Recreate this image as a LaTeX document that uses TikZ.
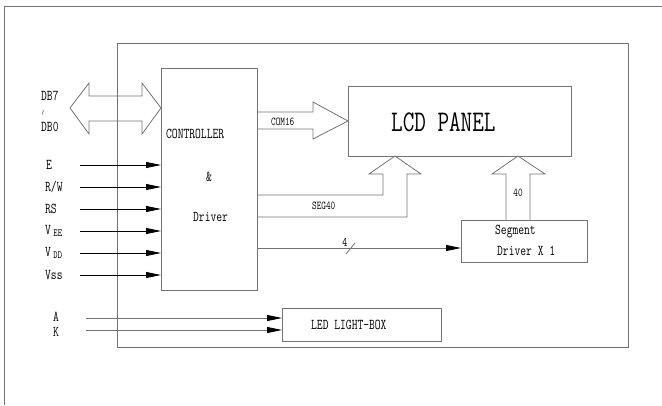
\documentclass[tikz,border=0pt]{standalone}
\usepackage{fontspec}
\newfontfamily\mono[FakeStretch=0.75]{Latin Modern Mono}
\usetikzlibrary{arrows.meta}
\definecolor{boxgray}{RGB}{115,115,115}
\tikzset{
  box/.style={draw=boxgray, line width=0.8pt, rectangle, inner sep=0pt, outer sep=0pt},
  lbl/.style={font=\mono\fontsize{15}{15}\selectfont, inner sep=0pt, anchor=west},
  slbl/.style={font=\mono\fontsize{12}{12}\selectfont, inner sep=0pt},
  inarrow/.style={draw=black, line width=0.8pt, -{Triangle[length=15pt,width=6pt,color=black]}},
  grayarrow/.style={draw=boxgray, line width=0.8pt, -{Triangle[length=15pt,width=6pt,color=black]}},
  bus/.style={draw=boxgray, line width=0.8pt, line join=miter},
}
\begin{document}
\begin{tikzpicture}[x=1pt,y=-1pt]
\useasboundingbox (0,0) rectangle (662,405);
% outer partial frame
\draw[boxgray, line width=0.8pt] (4,405) -- (4,6) -- (662,6);
% inner frame
\node[box, minimum width=511pt, minimum height=304pt] (frame) at (372.5,195) {};
% blocks
\node[box, minimum width=96pt, minimum height=222pt] (ctrl) at (209,179) {};
\node[box, minimum width=223pt, minimum height=70pt] (lcd) at (459.5,121) {};
\node[box, minimum width=126pt, minimum height=42pt] (seg) at (524,241) {};
\node[box, minimum width=159pt, minimum height=33pt] (led) at (361.5,324.5) {};
% block texts
\node[lbl] (tctrl) at (166,134) {CONTROLLER};
\node[lbl, anchor=center] (tamp) at (209,177) {\&};
\node[lbl] (tdrv) at (193,217) {Driver};
\node[font=\mono\fontsize{30}{30}\selectfont, inner sep=0pt, anchor=west] (tlcd) at (391,122) {LCD PANEL};
\node[lbl] (tseg1) at (495,232) {Segment};
\node[lbl] (tseg2) at (497,251) {Driver X 1};
\node[lbl] (tled) at (311,325) {LED LIGHT-BOX};
% data bus double arrow
\draw[bus] (70,108) -- (89,83) -- (89,96) -- (142,96) -- (142,83) -- (ctrl.west |- 0,108)
  -- (142,134) -- (142,121) -- (89,121) -- (89,134) -- cycle;
\node[lbl] (db7) at (41,96) {DB7};
\node[inner sep=0pt] (wr) at (43,113) {$\scriptstyle\wr$};
\node[lbl] (db0) at (41,127) {DB0};
% input signals
\node[lbl] (lE) at (46,165) {E};
\node[lbl] (lRW) at (45,187) {R/W};
\node[lbl] (lRS) at (45,209) {RS};
\node[lbl] (lVEE) at (45,231) {V\,{\fontsize{11}{11}\selectfont\raisebox{-1.5pt}{EE}}};
\node[lbl] (lVDD) at (45,253) {V\,{\fontsize{11}{11}\selectfont\raisebox{-1.5pt}{DD}}};
\node[lbl] (lVSS) at (45,275) {Vss};
\coordinate (sE) at (80,165);
\coordinate (sRW) at (80,187);
\coordinate (sRS) at (80,209);
\coordinate (sVEE) at (80,231);
\coordinate (sVDD) at (80,253);
\coordinate (sVSS) at (80,275);
\foreach \s in {sE,sRW,sRS,sVEE,sVDD,sVSS}
  \draw[inarrow] (\s) -- (ctrl.west |- \s);
% A, K
\node[lbl] (lA) at (53,317) {A};
\node[lbl] (lK) at (53,331.5) {K};
\coordinate (sA) at (86,318);
\coordinate (sK) at (86,330);
\draw[grayarrow] (sA) -- (led.west |- sA);
\draw[grayarrow] (sK) -- (led.west |- sK);
% COM16
\draw[bus] (ctrl.east |- 0,112) -- (313,112) -- (313,102) -- (lcd.west) -- (313,139) -- (313,129) -- (ctrl.east |- 0,129);
\node[slbl, anchor=west] (tcom) at (271,122) {COM16};
% SEG40
\draw[bus] (ctrl.east |- 0,195) -- (383,195) -- (383,174) -- (369,174) -- (lcd.south -| 395,0) -- (421,174) -- (407,174) -- (407,217) -- (ctrl.east |- 0,217);
\node[slbl, anchor=west] (tseg40) at (312,206) {SEG40};
% 40 from segment driver
\draw[bus] (seg.north -| 506,0) -- (506,174) -- (492,174) -- (lcd.south -| 518,0) -- (545,174) -- (530,174) -- (seg.north -| 530,0);
\node[slbl] (t40) at (518,193) {40};
% 4-bit line
\coordinate (s4) at (257,248);
\draw[grayarrow] (s4) -- (seg.west |- s4);
\draw[boxgray, line width=0.8pt] (346,254) -- (355,243);
\node[font=\mono\fontsize{13}{13}\selectfont, inner sep=0pt] (t4) at (345,242) {4};
\end{tikzpicture}
\end{document}
